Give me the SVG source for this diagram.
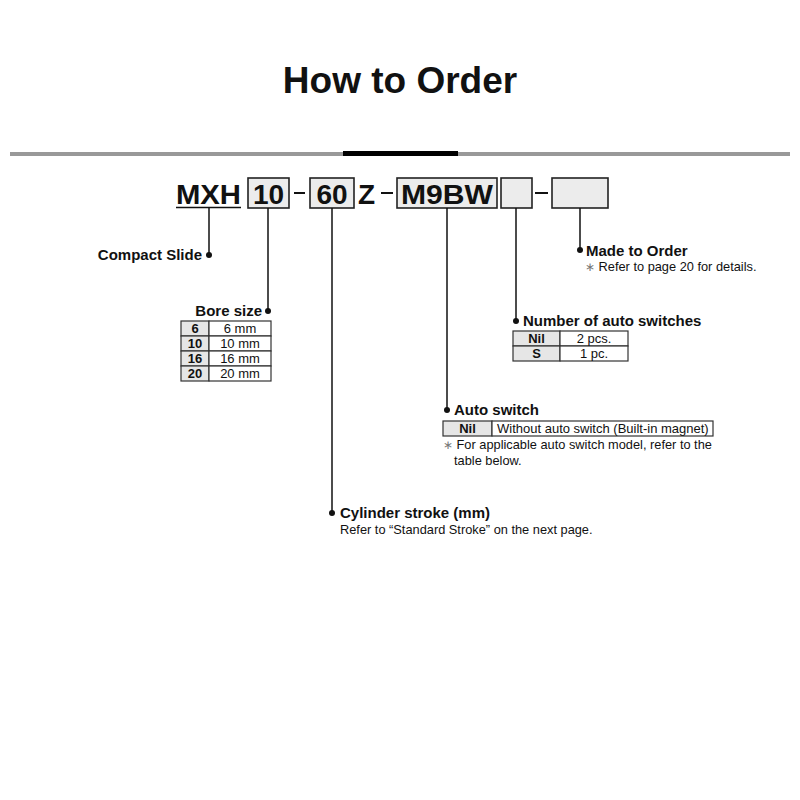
<svg xmlns="http://www.w3.org/2000/svg" width="800" height="800" viewBox="0 0 800 800">
<style>
text{font-family:"Liberation Sans",Arial,Helvetica,sans-serif;fill:#111}
.t{font-size:37px;font-weight:bold}
.code{font-size:28px;font-weight:bold}
.h{font-size:15px;font-weight:bold}
.n{font-size:12.8px}
.ast{font-size:12px;fill:#777}
.tb{font-size:13px}
.b{font-weight:bold}
.box{fill:#ececec;stroke:#222;stroke-width:1.6}
.cell{fill:#fff;stroke:#333;stroke-width:1.2}
.cellg{fill:#e6e6e6;stroke:#333;stroke-width:1.2}
.ln{stroke:#111;stroke-width:1.5;fill:none}
.dot{fill:#111}
</style>
<rect width="800" height="800" fill="#fff"/>
<text class="t" x="400" y="93" text-anchor="middle">How to Order</text>
<rect x="10" y="152" width="780" height="4" fill="#999"/>
<rect x="343" y="151" width="115" height="5" fill="#000"/>

<g id="code">
<text class="code" x="176" y="204" textLength="65" lengthAdjust="spacingAndGlyphs">MXH</text>
<line x1="176" y1="207.5" x2="241" y2="207.5" class="ln"/>
<rect class="box" x="248" y="178" width="41" height="30"/>
<text class="code" x="268.5" y="204" text-anchor="middle">10</text>
<line x1="294" y1="193" x2="305" y2="193" stroke="#111" stroke-width="2"/>
<rect class="box" x="310" y="178" width="44" height="30"/>
<text class="code" x="332" y="204" text-anchor="middle">60</text>
<text class="code" x="358" y="204">Z</text>
<line x1="381" y1="193" x2="393" y2="193" stroke="#111" stroke-width="2"/>
<rect class="box" x="397" y="178" width="100" height="30"/>
<text class="code" x="447" y="204" text-anchor="middle" textLength="92" lengthAdjust="spacingAndGlyphs">M9BW</text>
<rect class="box" x="501" y="178" width="31" height="30"/>
<line x1="535" y1="193" x2="548" y2="193" stroke="#111" stroke-width="2"/>
<rect class="box" x="552" y="178" width="56" height="30"/>
</g>

<g id="connectors">
<polyline class="ln" points="209,208 209,255"/>
<circle class="dot" cx="209" cy="255" r="3"/>
<polyline class="ln" points="268,208 268,311"/>
<circle class="dot" cx="268" cy="311" r="3"/>
<polyline class="ln" points="332,208 332,513"/>
<circle class="dot" cx="332" cy="513" r="3"/>
<polyline class="ln" points="447,208 447,410"/>
<circle class="dot" cx="447" cy="410" r="3"/>
<polyline class="ln" points="516,208 516,321"/>
<circle class="dot" cx="516" cy="321" r="3"/>
<polyline class="ln" points="580,208 580,250"/>
<circle class="dot" cx="580" cy="250" r="3"/>
</g>

<g id="compact-slide">
<text class="h" x="202" y="260" text-anchor="end">Compact Slide</text>
</g>

<g id="bore-size">
<text class="h" x="262" y="316" text-anchor="end">Bore size</text>
<rect class="cellg" x="181" y="321" width="28" height="15"/>
<rect class="cell" x="209" y="321" width="62" height="15"/>
<rect class="cellg" x="181" y="336" width="28" height="15"/>
<rect class="cell" x="209" y="336" width="62" height="15"/>
<rect class="cellg" x="181" y="351" width="28" height="15"/>
<rect class="cell" x="209" y="351" width="62" height="15"/>
<rect class="cellg" x="181" y="366" width="28" height="15"/>
<rect class="cell" x="209" y="366" width="62" height="15"/>
<text class="tb b" x="195" y="333" text-anchor="middle">6</text>
<text class="tb" x="240" y="333" text-anchor="middle">6 mm</text>
<text class="tb b" x="195" y="348" text-anchor="middle">10</text>
<text class="tb" x="240" y="348" text-anchor="middle">10 mm</text>
<text class="tb b" x="195" y="363" text-anchor="middle">16</text>
<text class="tb" x="240" y="363" text-anchor="middle">16 mm</text>
<text class="tb b" x="195" y="378" text-anchor="middle">20</text>
<text class="tb" x="240" y="378" text-anchor="middle">20 mm</text>
</g>

<g id="made-to-order">
<text class="h" x="586" y="256">Made to Order</text>
<text class="n" x="585" y="271"><tspan class="ast">∗</tspan> Refer to page 20 for details.</text>
</g>

<g id="number-of-auto-switches">
<text class="h" x="523" y="326">Number of auto switches</text>
<rect class="cellg" x="513" y="331" width="47" height="15"/>
<rect class="cell" x="560" y="331" width="68" height="15"/>
<rect class="cellg" x="513" y="346" width="47" height="15"/>
<rect class="cell" x="560" y="346" width="68" height="15"/>
<text class="tb b" x="536.5" y="343" text-anchor="middle">Nil</text>
<text class="tb" x="594" y="343" text-anchor="middle">2 pcs.</text>
<text class="tb b" x="536.5" y="358" text-anchor="middle">S</text>
<text class="tb" x="594" y="358" text-anchor="middle">1 pc.</text>
</g>

<g id="auto-switch">
<text class="h" x="454" y="415">Auto switch</text>
<rect class="cellg" x="443" y="421" width="49" height="15"/>
<rect class="cell" x="492" y="421" width="221" height="15"/>
<text class="tb b" x="467.5" y="433" text-anchor="middle">Nil</text>
<text class="tb" x="497" y="433">Without auto switch (Built-in magnet)</text>
<text class="n" x="443" y="449"><tspan class="ast">∗</tspan> For applicable auto switch model, refer to the</text>
<text class="n" x="454" y="465">table below.</text>
</g>

<g id="cylinder-stroke">
<text class="h" x="340" y="518">Cylinder stroke (mm)</text>
<text class="n" x="340" y="534">Refer to “Standard Stroke” on the next page.</text>
</g>
</svg>
